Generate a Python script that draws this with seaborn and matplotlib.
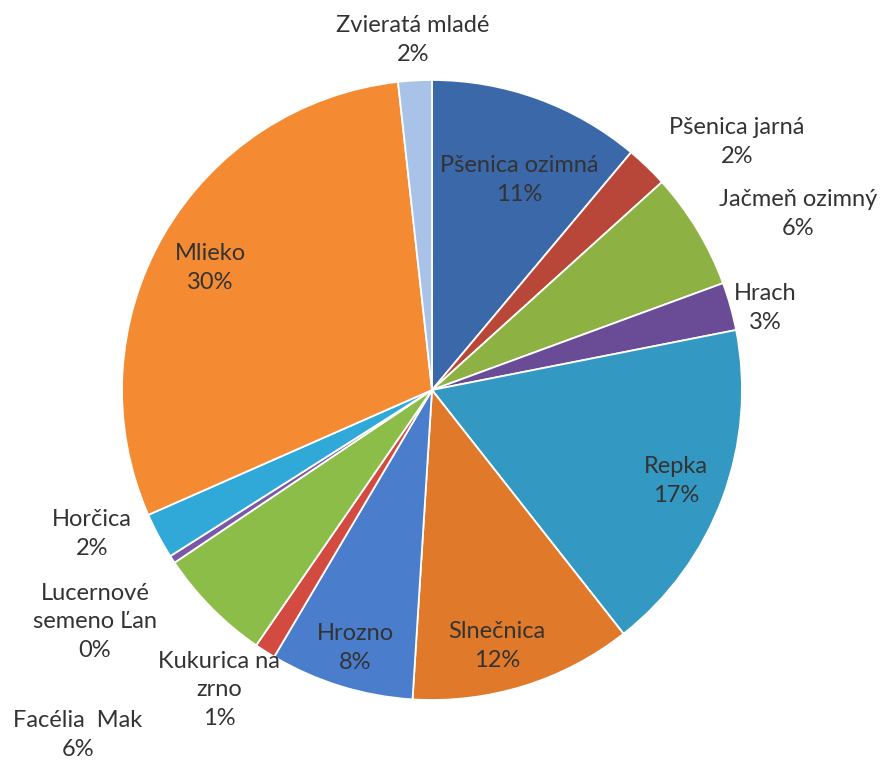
import matplotlib
matplotlib.use("Agg")
import matplotlib.pyplot as plt
import seaborn as sns

# slice data, clockwise from 12 o'clock
names = ["Pšenica ozimná", "Pšenica jarná", "Jačmeň ozimný", "Hrach", "Repka",
         "Slnečnica", "Hrozno", "Kukurica na\nzrno", "Facélia  Mak",
         "Lucernové\nsemeno Ľan", "Horčica", "Mlieko", "Zvieratá mladé"]
shares = [11.1, 2.2, 6.1, 2.5, 17.5, 11.6, 7.5, 1.1, 6.0, 0.4, 2.4, 29.85, 1.75]
pct_labels = ["11%", "2%", "6%", "3%", "17%", "12%", "8%", "1%", "6%", "0%", "2%", "30%", "2%"]
colors = ["#3a68a8", "#b8473a", "#8db142", "#6a4c96", "#3499c2", "#e07a2a",
          "#4a7dcc", "#d24a40", "#8cbd48", "#7a58a8", "#31a9d8", "#f48b33", "#a9c2e8"]

# label block centres in pixels (layout only)
label_px = [(519, 180), (737, 142), (798, 214), (765, 308), (676, 481),
            (497, 646), (355, 648), (219, 690), (78, 735),
            (95, 622), (92, 534), (210, 268), (413, 40)]

sns.set_theme(style="white")
plt.rcParams['font.family'] = ['Lato', 'DejaVu Sans']

W, H = 885, 761
cx, cy, R = 432, 390, 310
fig = plt.figure(figsize=(W / 100, H / 100), dpi=100)
ax = fig.add_axes([0, 0, 1, 1])

ax.pie(shares, colors=colors, startangle=90, counterclock=False, radius=1,
       wedgeprops=dict(edgecolor="white", linewidth=1.3))

ax.set_xlim(-cx / R, (W - cx) / R)
ax.set_ylim((cy - H) / R, cy / R)
ax.set_aspect("auto")
ax.axis("off")

for name, pct, (px, py) in zip(names, pct_labels, label_px):
    ax.text((px - cx) / R, (cy - py) / R, name + "\n" + pct,
            ha="center", va="center", fontsize=17, color="#333333",
            linespacing=1.45)

fig.savefig("out.png", dpi=100, facecolor="white")
